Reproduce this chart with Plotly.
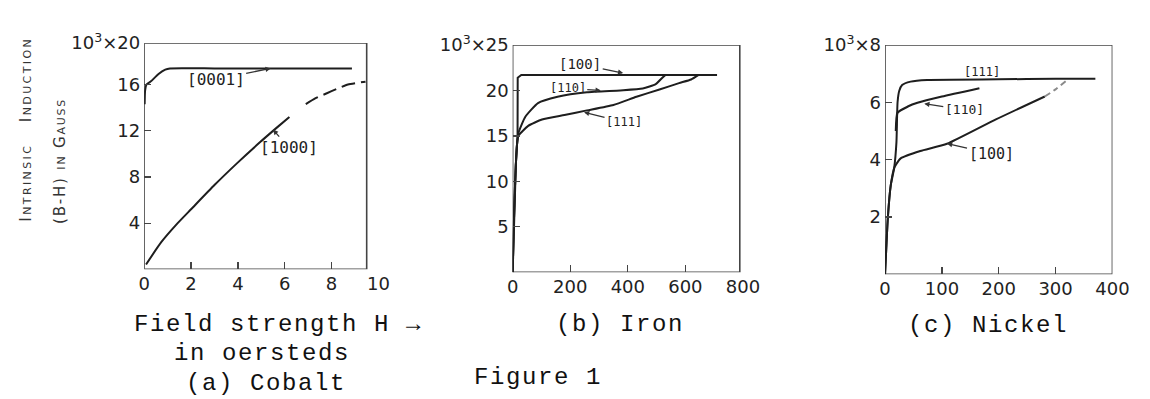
import plotly.graph_objects as go

# ---------------- data (in 10^3 gauss) ----------------
# (a) Cobalt, H in oersteds
co_0001_h = [0.02, 0.04, 0.1, 0.3, 0.6, 0.9, 1.1, 3, 5, 7, 8.87]
co_0001_b = [14.3, 15.5, 16.0, 16.3, 16.9, 17.3, 17.4, 17.4, 17.4, 17.4, 17.4]
co_1000_h = [0.08, 0.72, 1.43, 2.0, 3.0, 3.97, 4.94, 5.65, 6.2]
co_1000_b = [0.42, 2.33, 4.0, 5.2, 7.3, 9.2, 11.0, 12.25, 13.2]
co_1000_tail_h = [6.9, 7.3, 7.8, 8.2, 8.7, 9.45]
co_1000_tail_b = [14.3, 14.8, 15.25, 15.6, 16.0, 16.25]

# (b) Iron
fe_100_h = [0, 3, 7, 11, 15, 17, 17.5, 30, 200, 400, 600, 710]
fe_100_b = [0, 4, 8.5, 11.8, 14.0, 15.0, 21.4, 21.7, 21.7, 21.7, 21.7, 21.7]
fe_110_h = [0, 3, 7, 11, 15, 20, 44, 88, 156, 258, 374, 452, 497, 520, 531]
fe_110_b = [0, 4, 8.5, 11.8, 14.0, 15.3, 17.1, 18.6, 19.3, 19.8, 20.0, 20.2, 20.7, 21.4, 21.7]
fe_111_h = [0, 3, 7, 11, 15, 20, 54, 102, 180, 258, 350, 430, 510, 578, 620, 646]
fe_111_b = [0, 4, 8.5, 11.8, 14.0, 15.0, 16.1, 16.8, 17.3, 17.8, 18.4, 19.3, 20.1, 20.8, 21.2, 21.7]

# (c) Nickel
ni_111_h = [0, 5, 10, 16, 20, 22, 25, 30, 45, 74, 200, 300, 370]
ni_111_b = [0, 2.0, 3.1, 3.7, 4.6, 6.0, 6.4, 6.6, 6.72, 6.78, 6.8, 6.82, 6.82]
ni_110_h = [19, 22, 40, 57, 100, 166]
ni_110_b = [5.0, 5.64, 5.85, 5.98, 6.2, 6.49]
ni_100_h = [0, 5, 10, 16, 20, 28, 62, 109, 195, 281]
ni_100_b = [0, 2.0, 3.1, 3.7, 3.85, 4.05, 4.3, 4.55, 5.4, 6.2]
ni_100_tail_h = [281, 300, 319]
ni_100_tail_b = [6.2, 6.45, 6.75]

# tick labels
co_xticks = [0, 2, 4, 6, 8, 10]
co_yticks = [4, 8, 12, 16, 19.6]
co_yticktext = ["4", "8", "12", "16", "10<sup>3</sup>×20"]
fe_xticks = [0, 200, 400, 600, 800]
fe_yticks = [5, 10, 15, 20, 25]
fe_yticktext = ["5", "10", "15", "20", "10<sup>3</sup>×25"]
ni_xticks = [0, 100, 200, 300, 400]
ni_yticks = [2, 4, 6, 8]
ni_yticktext = ["2", "4", "6", "10<sup>3</sup>×8"]

W, H = 1150, 399
INK = "#1e1e1e"
FAINT = "#8a8a8a"
HAND = "DejaVu Sans"
MONO = "Liberation Mono"

fig = go.Figure()


def add(ax, x, y, color=INK, width=2.0, dash="solid", shape="spline"):
    fig.add_trace(go.Scatter(
        x=x, y=y, mode="lines", xaxis="x" + ax, yaxis="y" + ax,
        line=dict(color=color, width=width, dash=dash, shape=shape, smoothing=0.5),
        hoverinfo="skip", showlegend=False))


add("", co_0001_h, co_0001_b)
add("", co_1000_h, co_1000_b)
add("", co_1000_tail_h, co_1000_tail_b, dash="14px,6px")
add("2", fe_100_h, fe_100_b, shape="linear")
add("2", fe_110_h, fe_110_b)
add("2", fe_111_h, fe_111_b)
add("3", ni_111_h, ni_111_b)
add("3", ni_110_h, ni_110_b, width=2.2)
add("3", ni_100_h, ni_100_b)
add("3", ni_100_tail_h, ni_100_tail_b, color=FAINT, dash="6px,4px")


def px_x(p):
    return p / W


def px_y(p):
    return 1 - p / H


tickfont = dict(family=HAND, size=18, color="#222")


def xax(dom, rng, vals, minor_vals, anchor):
    return dict(domain=[px_x(dom[0]), px_x(dom[1])], range=rng, tickvals=vals,
                ticktext=[str(v) for v in vals], ticks="", showgrid=False,
                zeroline=False, showline=False, tickfont=tickfont, anchor=anchor,
                ticklabelstandoff=2, fixedrange=True,
                minor=dict(tickvals=minor_vals, ticks="inside", ticklen=7,
                           tickcolor="#444", tickwidth=1.3, showgrid=False))


def yax(dom, rng, vals, text, anchor):
    return dict(domain=[px_y(dom[1]), px_y(dom[0])], range=rng, tickvals=vals,
                ticktext=text, ticks="inside", ticklen=7, tickcolor="#444",
                tickwidth=1.3, showgrid=False, zeroline=False, showline=False,
                tickfont=tickfont, anchor=anchor, ticklabelstandoff=3,
                fixedrange=True)


fig.update_layout(
    width=W, height=H, margin=dict(l=0, r=0, t=0, b=0),
    paper_bgcolor="white", plot_bgcolor="white",
    xaxis=xax((141, 380), [0, 10], co_xticks, [2, 4, 6, 8], "y"),
    yaxis=yax((31, 265), [0, 19.6], co_yticks, co_yticktext, "x"),
    xaxis2=xax((517, 752), [0, 800], fe_xticks, [200, 400, 600], "y2"),
    yaxis2=yax((33, 268), [0, 25], fe_yticks, fe_yticktext, "x2"),
    xaxis3=xax((897, 1129), [0, 400], ni_xticks, [100, 200, 300], "y3"),
    yaxis3=yax((33, 270), [0, 8], ni_yticks, ni_yticktext, "x3"),
)

# plot frames
for ax, x1, y1 in [("", 9.5, 19.6), ("2", 789, 25), ("3", 400, 8)]:
    fig.add_shape(type="rect", xref="x" + ax, yref="y" + ax, x0=0, y0=0, x1=x1, y1=y1,
                  line=dict(color="#444", width=1.6), layer="below")

# curve labels with arrows
labels = [
    ("", 5.4, 17.4, "[0001]", -55, 11, 16),
    ("", 5.5, 12.1, "[1000]", 16, 18, 16),
    ("2", 384, 21.9, "[100]", -43, -9, 14),
    ("2", 306, 20.0, "[110]", -33, -2, 12),
    ("2", 248, 17.6, "[111]", 40, 10, 12),
    ("3", 69, 5.95, "[110]", 40, 6, 13),
    ("3", 109, 4.56, "[100]", 44, 10, 15),
]
for ax, x, y, t, dx, dy, sz in labels:
    fig.add_annotation(xref="x" + ax, yref="y" + ax, x=x, y=y, text=t,
                       showarrow=True, ax=dx, ay=dy, arrowhead=2, arrowsize=0.8,
                       arrowwidth=1.3, arrowcolor="#333",
                       font=dict(family="DejaVu Sans Mono", size=sz, color="#222"))
fig.add_annotation(xref="x3", yref="y3", x=170, y=7.05, text="[111]", showarrow=False,
                   font=dict(family="DejaVu Sans Mono", size=12, color="#222"))

# y-axis title (two lines, small caps)
ytitle = dict(family=HAND, size=15, color="#333", variant="small-caps")
fig.add_annotation(xref="paper", yref="paper", x=px_x(20), y=px_y(120),
                   xanchor="center", yanchor="middle",
                   text="<span style='letter-spacing:2.4px'>Intrinsic   Induction</span>",
                   textangle=-90, showarrow=False, font=ytitle)
fig.add_annotation(xref="paper", yref="paper", x=px_x(55), y=px_y(153),
                   xanchor="center", yanchor="middle",
                   text="<span style='letter-spacing:1.8px'>(B-H) in Gauss</span>",
                   textangle=-90, showarrow=False, font=ytitle)

# captions
cap = dict(family=MONO, size=24, color="#111")
captions = [
    (278, 322, "Field strength H →", "middle"),
    (261, 352, "in oersteds", "middle"),
    (265, 399, "(a) Cobalt", "bottom"),
    (627, 322, "(b) Iron", "middle"),
    (543, 377, "Figure 1", "middle"),
    (1002, 323, "(c) Nickel", "middle"),
]
for cx, cy, t, ya in captions:
    fig.add_annotation(xref="paper", yref="paper", x=px_x(cx), y=px_y(cy),
                       text="<span style='letter-spacing:1.6px'>" + t + "</span>",
                       showarrow=False, font=cap, xanchor="center", yanchor=ya)

fig.write_html("out.html",
               config={"displayModeBar": False, "staticPlot": True},
               post_script="document.body.style.margin='0';"
                           "document.body.style.overflow='hidden';")
